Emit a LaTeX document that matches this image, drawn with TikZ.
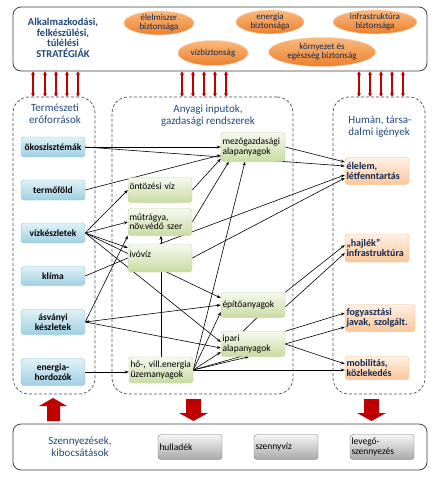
\documentclass[tikz,border=0pt]{standalone}
\usepackage{fontspec}
\setmainfont{Carlito}
\usetikzlibrary{shapes.geometric,arrows.meta,backgrounds}
\frenchspacing

\definecolor{titleblue}{RGB}{31,73,125}
\definecolor{textnavy}{RGB}{20,40,80}
\definecolor{darkred}{RGB}{192,0,0}
\definecolor{nattop}{RGB}{224,241,247}
\definecolor{natbot}{RGB}{160,208,226}
\definecolor{natline}{RGB}{137,194,214}
\definecolor{intop}{RGB}{246,249,239}
\definecolor{inbot}{RGB}{201,219,162}
\definecolor{inedge}{RGB}{188,208,148}
\definecolor{humtop}{RGB}{254,241,230}
\definecolor{humbot}{RGB}{251,198,152}
\definecolor{humline}{RGB}{247,184,134}
\definecolor{goaltop}{RGB}{250,186,124}
\definecolor{goalbot}{RGB}{236,128,46}
\definecolor{goalline}{RGB}{250,204,164}
\definecolor{wastetop}{RGB}{246,246,246}
\definecolor{wastebot}{RGB}{168,168,168}
\definecolor{wasteline}{RGB}{120,120,120}

\begin{document}
\begin{tikzpicture}[x=1pt,y=-1pt,
    panel/.style={draw=black!75, line width=0.8pt, rounded corners=8pt, fill=white},
    column/.style={draw=black!70, dash pattern=on 3pt off 2pt, line width=0.7pt, rounded corners=16pt},
    heading/.style={text=titleblue, align=center, font=\fontsize{11}{12}\selectfont},
    goal/.style={ellipse, draw=goalline, top color=goaltop, bottom color=goalbot, inner sep=0pt, align=center, text=textnavy, font=\fontsize{9}{9}\selectfont},
    natbox/.style={rounded corners=3pt, draw=natline, top color=nattop, bottom color=natbot, minimum width=64pt, inner xsep=1pt, align=center, font=\bfseries\fontsize{9.5}{10}\selectfont},
    inbox/.style={rounded corners=3pt, draw=inedge, top color=intop, bottom color=inbot, text width=61pt, inner xsep=1.5pt, inner ysep=2pt, align=left, font=\fontsize{9.5}{9.5}\selectfont},
    humbox/.style={rounded corners=3pt, draw=humline, top color=humtop, bottom color=humbot, text width=61pt, inner xsep=1.5pt, inner ysep=2pt, align=left, text=textnavy, font=\bfseries\fontsize{10}{10}\selectfont},
    wastebox/.style={rounded corners=3pt, draw=wasteline, top color=wastetop, bottom color=wastebot, text width=61pt, inner xsep=1.5pt, minimum height=25pt, align=left, font=\fontsize{9.5}{10}\selectfont},
    arr/.style={-{Stealth[length=4pt,width=3pt]}, line width=0.6pt},
    twoarr/.style={{Stealth[length=4pt,width=3pt]}-{Stealth[length=4pt,width=3pt]}, line width=0.6pt},
    link/.style={line width=0.6pt},
    dblred/.style={{Stealth[length=3.5pt,width=4pt]}-{Stealth[length=3.5pt,width=4pt]}, line width=1.1pt, draw=darkred},
    blockred/.style={fill=darkred}
  ]
  \useasboundingbox (0,0) rectangle (442,480);

  % Strategies on top
  \node[panel, minimum width=414pt, minimum height=64pt] (strat) at (220,39) {};
  \node[heading, font=\bfseries\fontsize{10.5}{10.5}\selectfont] (strattitle) at (63,38) {Alkalmazkodási,\\felkészülési,\\túlélési\\STRATÉGIÁK};
  \node[goal, minimum width=70pt, minimum height=22pt] (food) at (159,23) {élelmiszer\\biztonsága};
  \node[goal, minimum width=68pt, minimum height=22pt] (energy) at (270,22) {energia\\biztonsága};
  \node[goal, minimum width=84pt, minimum height=22pt] (infra) at (375,22) {infrastruktúra\\biztonsága};
  \node[goal, minimum width=70pt, minimum height=25pt] (water) at (213,53) {vízbiztonság};
  \node[goal, minimum width=107pt, minimum height=29pt] (health) at (322,52) {környezet és\\egészség biztonság};

  % Three columns
  \node[column, minimum width=82pt, minimum height=297pt] (natcol) at (54,245.5) {};
  \node[column, minimum width=181pt, minimum height=297pt] (midcol) at (202.5,245.5) {};
  \node[column, minimum width=92pt, minimum height=297pt] (humcol) at (379,245.5) {};
  \node[heading] (nattitle) at (55,114) {Természeti\\erőforrások};
  \node[heading] (midtitle) at (208,116) {Anyagi inputok,\\gazdasági rendszerek};
  \node[heading, align=left] (humtitle) at (380,127) {Humán, társa-\\dalmi igények};

  % Links to the strategies
  \foreach \x in {33,45,56,67,78}
    \draw[dblred] (\x,0 |- strat.south) -- (\x,0 |- natcol.north);
  \foreach \x in {182,193,204,215,226}
    \draw[dblred] (\x,0 |- strat.south) -- (\x,0 |- midcol.north);
  \foreach \x in {359,370,381,392,403}
    \draw[dblred] (\x,0 |- strat.south) -- (\x,0 |- humcol.north);

  % Natural resources
  \node[natbox, minimum height=20pt] (eko) at (53,147) {ökoszisztémák};
  \node[natbox, minimum height=20pt] (fold) at (53,190) {termőföld};
  \node[natbox, minimum height=20pt] (viz) at (53,233) {vízkészletek};
  \node[natbox, minimum height=19pt] (klima) at (53,276) {klíma};
  \node[natbox, minimum height=25pt] (asv) at (53,322) {ásványi\\készletek};
  \node[natbox, minimum height=27pt] (enh) at (53,372) {energia-\\hordozók};

  % Material inputs
  \node[inbox, minimum height=25pt] (ontoz) at (160,190) {öntözési víz\\[-1pt]~};
  \node[inbox, minimum height=27pt] (mutr) at (160,222) {műtrágya,\\növ.védő szer};
  \node[inbox, minimum height=28pt] (ivo) at (160,258) {ivóvíz\\[-1pt]~};
  \node[inbox, minimum height=29pt] (mezo) at (253,147) {mezőgazdasági\\alapanyagok};
  \node[inbox, minimum height=25pt] (epito) at (253,305) {építőanyagok};
  \node[inbox, minimum height=25pt] (ipari) at (253,344) {ipari\\alapanyagok};
  \node[inbox, minimum height=26pt] (ho) at (161,370) {hő-, vill.energia\\üzemanyagok};

  % Human needs
  \node[humbox, minimum height=27pt] (elelem) at (377,171) {élelem,\\létfenntartás};
  \node[humbox, minimum height=28pt] (hajlek) at (377,248) {„hajlék”\\infrastruktúra};
  \node[humbox, text width=67pt, minimum height=27pt] (fogy) at (380,318) {fogyasztási\\javak, szolgált.};
  \node[humbox, minimum height=23pt] (mobil) at (377,368) {mobilitás,\\közlekedés};

  % Connectors
  \begin{scope}[on background layer]
    \draw[arr] (eko.east) -- (mezo.west);
    \draw[arr] (eko.east) -- ([yshift=5pt]elelem.west);
    \draw[arr] (fold.east) -- ([yshift=-8pt]mezo.west);
    \draw[arr] (viz.east) -- (ontoz.west);
    \draw[arr] (viz.east) -- (mutr.west);
    \draw[arr] (viz.east) -- ([yshift=-4pt]ivo.north west);
    \draw[arr] (viz.east) -- ([yshift=7pt]epito.west);
    \draw[arr] (viz.east) -- ([yshift=2pt]ipari.west);
    \draw[link] (klima.east) -- (ivo.west);
    \draw[arr] (asv.east) -- (mutr.south west);
    \draw[twoarr] (asv.east) -- (epito.west);
    \draw[arr] (asv.east) -- ([yshift=-4pt]ipari.west);
    \draw[arr] (enh.east) -- (enh.east -| ho.west);
    \draw[arr] (ontoz.east) -- ([yshift=3pt]mezo.south west);
    \draw[arr] (mutr.east) -- ([xshift=8pt]mezo.south west);
    \draw[arr] (ho.north) -- (ho.north |- mutr.south);
    \draw[arr] (ho.east) -- ([xshift=-8pt]mezo.south);
    \draw[arr] (ho.east) -- ([yshift=-7pt]epito.west);
    \draw[arr] (ho.east) -- ([yshift=-8pt]ipari.west);
    \draw[arr] (ho.east) -- ([xshift=-4pt]ipari.south);
    \draw[link] ([xshift=4pt]epito.south) -- ([xshift=-10pt]ipari.north);
    \draw[arr] (mezo.east) -- ([yshift=9pt]elelem.west);
    \draw[arr] (ivo.north) -- ([yshift=-4pt]elelem.west);
    \draw[arr] (ivo.east) -- ([yshift=-7pt]elelem.west);
    \draw[arr] (epito.north east) -- ([yshift=3pt]hajlek.west);
    \draw[arr] ([yshift=-2pt]epito.east) -- ([yshift=-5pt]hajlek.west);
    \draw[arr] (ipari.north east) -- ([yshift=5pt]fogy.west);
    \draw[arr] (ho.east) -- ([yshift=-9pt]fogy.west);
    \draw[arr] (ipari.east) -- ([yshift=4pt]mobil.west);
    \draw[arr] (ho.east) -- (ho.east -| mobil.west);
  \end{scope}

  % Block arrows
  \fill[blockred] (47,421) -- (47,406) -- (39,406) -- (53,398) -- (67,406) -- (60,406) -- (60,421) -- cycle;
  \fill[blockred] (186,399) -- (201,399) -- (201,413) -- (208,413) -- (193.5,421) -- (179,413) -- (186,413) -- cycle;
  \fill[blockred] (364,399) -- (379,399) -- (379,413) -- (386,413) -- (371.5,421) -- (357,413) -- (364,413) -- cycle;

  % Emissions
  \node[panel, minimum width=414pt, minimum height=46pt] (emis) at (220,447) {};
  \node[heading] (emistitle) at (80,447) {Szennyezések,\\kibocsátások};
  \node[wastebox] (hull) at (190,447) {hulladék};
  \node[wastebox] (szenny) at (286,447) {szennyvíz};
  \node[wastebox] (leveg) at (382,447) {levegő-\\szennyezés};
\end{tikzpicture}
\end{document}
